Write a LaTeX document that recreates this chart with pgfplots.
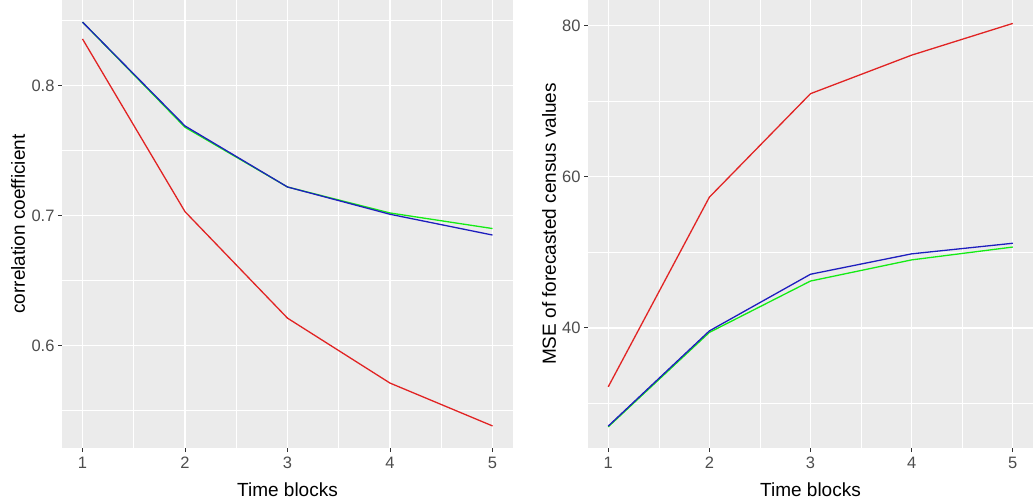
\documentclass[border=0pt]{standalone}
\usepackage{pgfplots}
\pgfplotsset{compat=1.18}
\usepackage{fontspec}
\setmainfont{Liberation Sans}
\definecolor{panelbg}{HTML}{EBEBEB}
\definecolor{ticklab}{HTML}{4D4D4D}
\definecolor{tickc}{HTML}{333333}
\definecolor{lred}{RGB}{225,35,35}
\definecolor{lgreen}{RGB}{20,235,20}
\definecolor{lblue}{RGB}{30,30,190}
\pgfplotsset{ggstyle/.style={
  scale only axis, height=448pt,
  axis background/.style={fill=panelbg},
  axis line style={draw=none},
  grid=both,
  major grid style={white, line width=1.3pt},
  minor grid style={white, line width=0.6pt},
  tick align=outside, tick pos=left,
  major tick length=4pt, minor tick length=0pt,
  tick style={tickc, line width=0.8pt},
  xmin=0.8, xmax=5.2, xtick={1,2,3,4,5},
  minor xtick={1.5,2.5,3.5,4.5},
  ticklabel style={font=\fontsize{16.5}{16.5}\selectfont, text=ticklab},
  xticklabel style={yshift=-1.5pt},
  /pgf/number format/assume math mode=true,
  label style={font=\fontsize{19}{19}\selectfont},
  xlabel={Time blocks},
  xlabel style={at={(axis description cs:0.5,0)}, anchor=center, yshift=-42pt},
  every axis plot/.append style={line width=1.3pt, mark=none},
}}
\begin{document}
\begin{tikzpicture}
\path[use as bounding box] (-62pt,-53pt) rectangle (973pt,448pt);
\begin{axis}[ggstyle, at={(0pt,0pt)}, width=451pt,
  ymin=0.521, ymax=0.866,
  ytick={0.6,0.7,0.8}, minor ytick={0.55,0.65,0.75,0.85},
  yticklabel style={/pgf/number format/.cd, fixed, precision=1, fixed zerofill},
  ylabel={correlation coefficient},
  ylabel style={at={(axis description cs:-0.0976,0.5)}, anchor=center}]
\addplot[lred] coordinates {(1,0.836) (2,0.703) (3,0.621) (4,0.571) (5,0.538)};
\addplot[lgreen] coordinates {(1,0.849) (2,0.768) (3,0.722) (4,0.702) (5,0.690)};
\addplot[lblue] coordinates {(1,0.849) (2,0.769) (3,0.722) (4,0.701) (5,0.685)};
\end{axis}
\begin{axis}[ggstyle, at={(526pt,0pt)}, width=445pt,
  ymin=24.1, ymax=83.4,
  ytick={40,60,80}, minor ytick={30,50,70},
  ylabel={MSE of forecasted census values},
  ylabel style={at={(axis description cs:-0.0876,0.5)}, anchor=center}]
\addplot[lred] coordinates {(1,32.2) (2,57.3) (3,71.0) (4,76.1) (5,80.3)};
\addplot[lgreen] coordinates {(1,26.9) (2,39.4) (3,46.2) (4,49.0) (5,50.7)};
\addplot[lblue] coordinates {(1,27.0) (2,39.6) (3,47.1) (4,49.8) (5,51.2)};
\end{axis}
\end{tikzpicture}
\end{document}
